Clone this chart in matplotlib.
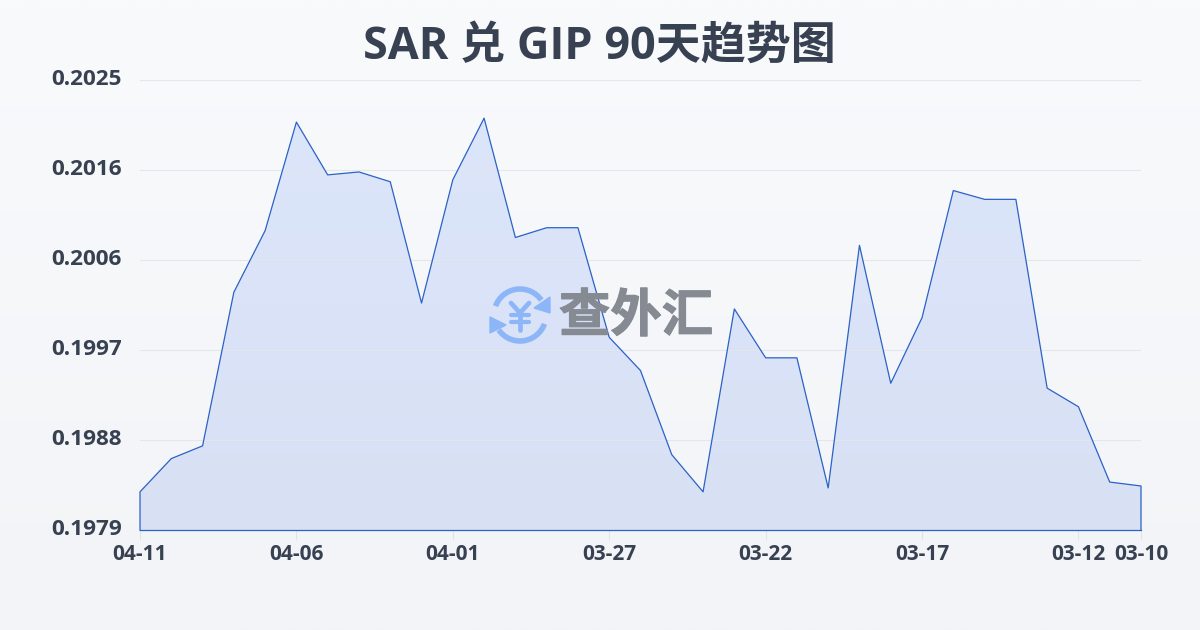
import matplotlib.pyplot as plt
import numpy as np
import matplotlib.patheffects as pe
from matplotlib.patches import Arc, Polygon
from matplotlib.colors import LinearSegmentedColormap
from matplotlib.transforms import ScaledTranslation

plt.rcParams['font.family'] = ['Open Sans', 'Noto Sans CJK SC', 'DejaVu Sans']

dates = ['04-11', '04-10', '04-09', '04-08', '04-07', '04-06', '04-05', '04-04', '04-03', '04-02', '04-01',
         '03-31', '03-30', '03-29', '03-28', '03-27', '03-26', '03-25', '03-24', '03-23', '03-22',
         '03-21', '03-20', '03-19', '03-18', '03-17', '03-16', '03-15', '03-14', '03-13', '03-12',
         '03-11', '03-10']
rates = [0.19829, 0.19863, 0.19876, 0.20033, 0.20096, 0.20207, 0.20153, 0.20156, 0.20146, 0.20022, 0.20148,
         0.20211, 0.20089, 0.20099, 0.20099, 0.19987, 0.19953, 0.19867, 0.19829, 0.20016, 0.19966,
         0.19966, 0.19833, 0.20081, 0.19940, 0.20007, 0.20137, 0.20128, 0.20128, 0.19935, 0.19916,
         0.19839, 0.19835]
y_ticks = [0.1979, 0.19882, 0.19974, 0.20066, 0.20158, 0.2025]
y_labels = ['0.1979', '0.1988', '0.1997', '0.2006', '0.2016', '0.2025']
x_shown = ['04-11', '04-06', '04-01', '03-27', '03-22', '03-17', '03-12', '03-10']

W, H = 1200, 630
text_color = '#374151'
line_color = '#2b62c6'

fig = plt.figure(figsize=(W / 100, H / 100), dpi=100)

# фон
bg = fig.add_axes([0, 0, 1, 1], zorder=0)
bg_cmap = LinearSegmentedColormap.from_list('bg', ['#f9fafc', '#f3f4f7'])
bg.imshow(np.linspace(0, 1, 256).reshape(-1, 1), aspect='auto', cmap=bg_cmap, extent=[0, W, H, 0])
bg.set_xlim(0, W)
bg.set_ylim(H, 0)
bg.axis('off')

# график
ax = fig.add_axes([140 / W, 1 - 530 / H, 1001 / W, 450 / H], zorder=1)
ax.patch.set_alpha(0)
xs = np.arange(len(rates))
ax.set_xlim(0, len(rates) - 1)
ax.set_ylim(y_ticks[0], y_ticks[-1])

area_x = np.concatenate([[xs[0]], xs, [xs[-1]]])
area_y = np.concatenate([[y_ticks[0]], rates, [y_ticks[0]]])
fill_cmap = LinearSegmentedColormap.from_list('fill', ['#dce6fa', '#d8e0f4'])
grad = ax.imshow(np.linspace(0, 1, 256).reshape(-1, 1), aspect='auto', cmap=fill_cmap,
                 extent=[xs[0], xs[-1], y_ticks[0], y_ticks[-1]], zorder=1)
clip = Polygon(np.column_stack([area_x, area_y]), closed=True, transform=ax.transData,
               facecolor='none', edgecolor='none')
ax.add_patch(clip)
grad.set_clip_path(clip)

ax.grid(axis='y', color='#e3e6ea', linewidth=0.8, zorder=2)
ax.set_axisbelow(False)
ax.plot(area_x, area_y, color=line_color, linewidth=0.9, zorder=3, clip_on=False)
ax.plot([xs[0], xs[-1]], [y_ticks[0], y_ticks[0]], color=line_color, linewidth=0.9, zorder=3, clip_on=False)

for s in ax.spines.values():
    s.set_visible(False)
ax.set_yticks(y_ticks)
ax.set_yticklabels(y_labels, fontsize=16.2, fontweight='bold', color=text_color)
ax.tick_params(axis='y', length=0, pad=13)
ax.set_xticks([dates.index(d) for d in x_shown])
ax.set_xticklabels(x_shown, fontsize=15, fontweight='bold', color=text_color)
ax.tick_params(axis='x', length=7, width=0.8, color='#e0e3e8', pad=3)
shift = ScaledTranslation(0, 2.5 / 100, fig.dpi_scale_trans)
for lab in ax.get_yticklabels():
    lab.set_transform(lab.get_transform() + shift)

fig.text(599 / W, 1 - 47 / H, 'SAR 兑 GIP 90天趋势图', fontsize=32.4, fontweight='bold', color=text_color,
         ha='center', va='center')

# водяной знак
wm = fig.add_axes([0, 0, 1, 1], zorder=2)
wm.patch.set_alpha(0)
wm.set_xlim(0, W)
wm.set_ylim(H, 0)
wm.axis('off')
blue = '#8db6f8'
cx, cy, r = 520, 315, 26
wm.add_patch(Arc((cx, cy), 2 * r, 2 * r, theta1=200, theta2=325, color=blue, linewidth=4))
wm.add_patch(Arc((cx, cy), 2 * r, 2 * r, theta1=20, theta2=145, color=blue, linewidth=4))
wm.add_patch(Polygon([[550, 297], [550, 313], [534, 308]], closed=True, color=blue))
wm.add_patch(Polygon([[490, 317], [490, 333], [506, 325]], closed=True, color=blue))
wm.plot([511, 520, 529], [303, 313, 303], color=blue, linewidth=3.4, solid_capstyle='round')
wm.plot([520, 520], [313, 330], color=blue, linewidth=3.4, solid_capstyle='round')
wm.plot([511, 529], [315, 315], color=blue, linewidth=3, solid_capstyle='round')
wm.plot([511, 529], [322, 322], color=blue, linewidth=3, solid_capstyle='round')
wm.text(636, 316, '查外汇', fontsize=37, fontweight='bold', color='#858a93', ha='center', va='center',
        family=['Noto Sans CJK SC', 'DejaVu Sans'],
        path_effects=[pe.withStroke(linewidth=0.8, foreground='#858a93')])

fig.savefig('out.png', dpi=100)
